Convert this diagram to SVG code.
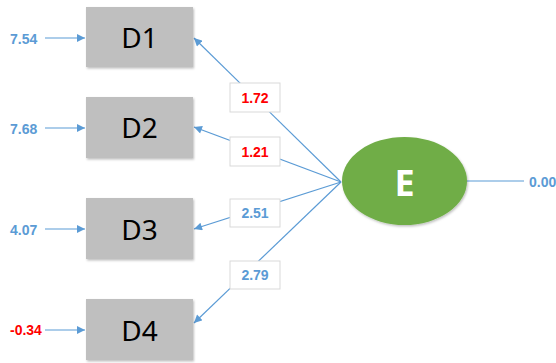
<svg xmlns="http://www.w3.org/2000/svg" width="556" height="363" viewBox="0 0 556 363">
  <defs>
    <marker id="arrow" viewBox="0 0 10 10" refX="10" refY="5" markerWidth="9" markerHeight="8" markerUnits="userSpaceOnUse" orient="auto">
      <path d="M0,0 L10,5 L0,10 z" fill="#5B9BD5"/>
    </marker>
    <filter id="shadow" x="-10%" y="-10%" width="125%" height="125%">
      <feDropShadow dx="1" dy="1.5" stdDeviation="1" flood-color="#000" flood-opacity="0.25"/>
    </filter>
  </defs>
  <style>
    .box { fill: #BFBFBF; filter: url(#shadow); }
    .node-text { font-family: "Noto Sans", "Liberation Sans", sans-serif; font-size: 28px; fill: #000; text-anchor: middle; dominant-baseline: central; }
    .edge { stroke: #5B9BD5; stroke-width: 1.2; fill: none; }
    .val { font-family: "Liberation Sans", sans-serif; font-size: 14px; font-weight: bold; fill: #5B9BD5; dominant-baseline: central; }
    .red { fill: #FF0000; }
    .lab-box { fill: #fff; stroke: #D9D9D9; stroke-width: 1; }
    .lab { text-anchor: middle; }
  </style>

  <rect width="556" height="363" fill="#fff"/>

  <!-- connectors -->
  <g id="connectors">
    <line class="edge" x1="45" y1="38" x2="85" y2="38" marker-end="url(#arrow)"/>
    <line class="edge" x1="45" y1="128" x2="85" y2="128" marker-end="url(#arrow)"/>
    <line class="edge" x1="45" y1="229" x2="85" y2="229" marker-end="url(#arrow)"/>
    <line class="edge" x1="45" y1="330" x2="85" y2="330" marker-end="url(#arrow)"/>
    <line class="edge" x1="341" y1="182" x2="194" y2="38" marker-end="url(#arrow)"/>
    <line class="edge" x1="341" y1="182" x2="194" y2="127" marker-end="url(#arrow)"/>
    <line class="edge" x1="341" y1="182" x2="194" y2="229" marker-end="url(#arrow)"/>
    <line class="edge" x1="341" y1="182" x2="194" y2="323" marker-end="url(#arrow)"/>
    <line class="edge" x1="467" y1="181" x2="524" y2="181"/>
  </g>

  <!-- path coefficient labels -->
  <g id="labels">
    <rect class="lab-box" x="230" y="83" width="50" height="29"/>
    <text class="val red lab" x="255" y="98">1.72</text>
    <rect class="lab-box" x="230" y="137" width="50" height="29"/>
    <text class="val red lab" x="255" y="152">1.21</text>
    <rect class="lab-box" x="230" y="199" width="50" height="28"/>
    <text class="val lab" x="255" y="213">2.51</text>
    <rect class="lab-box" x="230" y="261" width="50" height="28"/>
    <text class="val lab" x="255" y="275">2.79</text>
  </g>

  <!-- input values -->
  <g id="inputs">
    <text class="val" x="10" y="39">7.54</text>
    <text class="val" x="10" y="129">7.68</text>
    <text class="val" x="10" y="230">4.07</text>
    <text class="val red" x="10" y="330">-0.34</text>
    <text class="val" x="529" y="182">0.00</text>
  </g>

  <g id="D1">
    <rect class="box" x="86" y="7" width="107" height="60"/>
    <text class="node-text" x="139.5" y="37">D1</text>
  </g>
  <g id="D2">
    <rect class="box" x="86" y="97" width="107" height="61"/>
    <text class="node-text" x="139.5" y="127">D2</text>
  </g>
  <g id="D3">
    <rect class="box" x="86" y="198" width="107" height="61"/>
    <text class="node-text" x="139.5" y="229">D3</text>
  </g>
  <g id="D4">
    <rect class="box" x="86" y="299" width="107" height="61"/>
    <text class="node-text" x="139.5" y="330">D4</text>
  </g>
  <g id="E">
    <ellipse cx="404.5" cy="181" rx="62.5" ry="44" fill="#70AD47" filter="url(#shadow)"/>
    <text x="404.5" y="182" font-family="Noto Sans, Liberation Sans, sans-serif" font-size="36" font-weight="bold" fill="#fff" text-anchor="middle" dominant-baseline="central">E</text>
  </g>
</svg>
